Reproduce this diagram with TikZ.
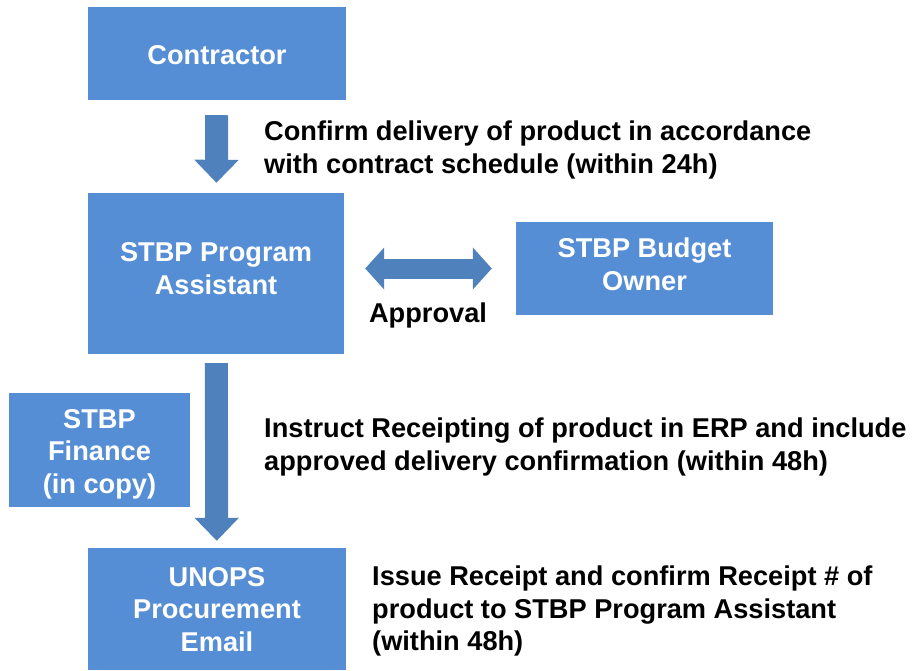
\documentclass[tikz,border=0pt]{standalone}
\usepackage{fontspec}
\setmainfont{Liberation Sans}
\usetikzlibrary{arrows.meta}
\definecolor{boxblue}{RGB}{85,142,213}
\definecolor{arrowblue}{RGB}{79,129,189}

\begin{document}
\begin{tikzpicture}[
		x=1pt, y=-1pt,
		every node/.style={font=\fontsize{27.2}{32.5}\selectfont\bfseries, align=center},
		box/.style={rectangle, fill=boxblue, inner sep=0pt},
		boxtext/.style={text=white, inner sep=0pt},
		note/.style={anchor=west, align=left, inner sep=0pt},
		bigtip/.tip={Triangle[width=43pt, length=23pt]},
		sidetip/.tip={Triangle[width=41pt, length=19pt]},
		flow/.style={draw=arrowblue, line width=23pt, -bigtip},
		swap/.style={draw=arrowblue, line width=20pt, sidetip-sidetip}
	]
  \useasboundingbox (0,0) rectangle (912,670);
  \node (contractor) [box, minimum width=258pt, minimum height=93pt] at (217, 53.5) {};
  \node (contractor_label) [boxtext] at (217, 55.5) {Contractor};
  \node (assistant) [box, minimum width=256pt, minimum height=161pt] at (216, 273.5) {};
  \node (assistant_label) [boxtext] at (216, 268.5) {STBP Program\\Assistant};
  \node (owner) [box, minimum width=257pt, minimum height=93pt] at (644.5, 268.5) {};
  \node (owner_label) [boxtext] at (644.5, 264.5) {STBP Budget\\Owner};
  \node (finance) [box, minimum width=181pt, minimum height=114pt] at (99.5, 450) {};
  \node (finance_label) [boxtext] at (99.5, 454) {STBP\\Finance\\(in copy)};
  \node (unops) [box, minimum width=258pt, minimum height=122pt] at (217, 609) {};
  \node (unops_label) [boxtext] at (217, 609.5) {UNOPS\\Procurement\\Email};
  \node (confirm) [note] at (264, 150) {Confirm delivery of product in accordance\\with contract schedule (within 24h)};
  \node (approval) [inner sep=0pt] at (428, 315) {Approval};
  \node (instruct) [note] at (264, 447) {Instruct Receipting of product in ERP and include\\approved delivery confirmation (within 48h)};
  \node (issue) [note] at (372, 611) {Issue Receipt and confirm Receipt \# of\\product to STBP Program Assistant\\(within 48h)};
  \draw [flow, shorten <=15pt, shorten >=10pt] (contractor) -- (assistant);
  \draw [swap, shorten <=21pt, shorten >=24pt] (assistant.east |- owner.west) -- (owner.west);
  \draw [flow, shorten <=9pt, shorten >=7pt] (assistant) -- (unops);
\end{tikzpicture}
\end{document}
